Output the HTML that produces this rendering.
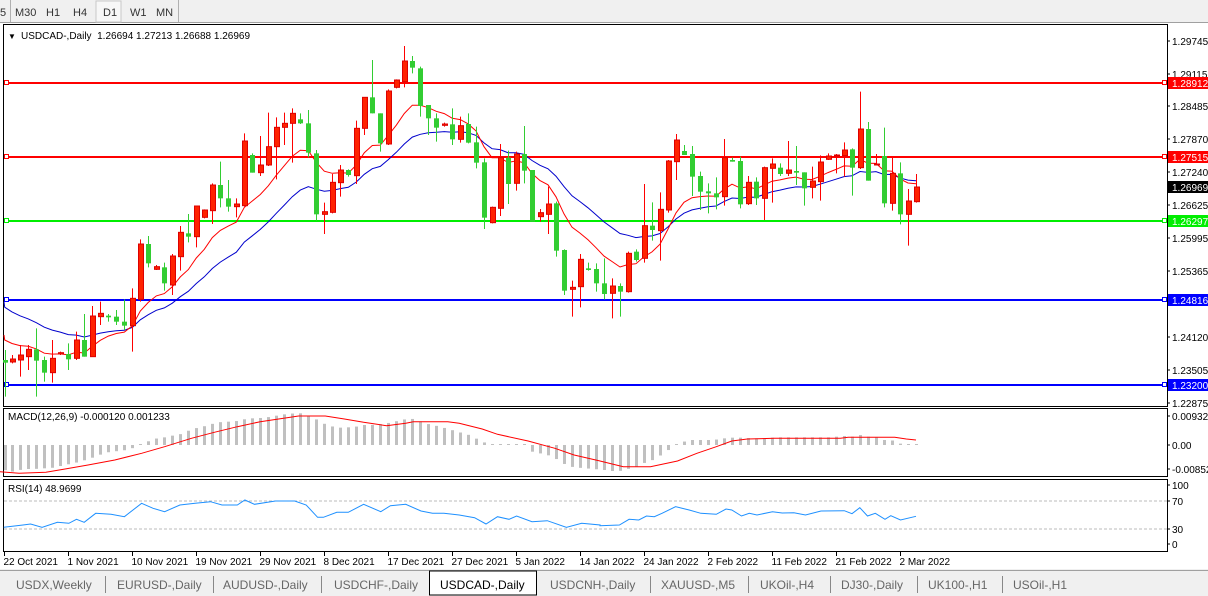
<!DOCTYPE html>
<html><head><meta charset="utf-8"><style>
html,body{margin:0;padding:0;background:#fff;width:1208px;height:596px;overflow:hidden;font-family:"Liberation Sans",sans-serif}
svg{display:block}
</style></head><body>
<svg id="s" width="1208" height="596" xmlns="http://www.w3.org/2000/svg" font-family="Liberation Sans, sans-serif"></svg>
<script>
var S=document.getElementById('s');var out=[];
function r(x,y,w,h,f,st){out.push('<rect x="'+x+'" y="'+y+'" width="'+w+'" height="'+h+'" fill="'+f+'"'+(st?' stroke="'+st+'" stroke-width="1"':'')+'/>');}
function l(x1,y1,x2,y2,c,w,d){out.push('<line x1="'+x1+'" y1="'+y1+'" x2="'+x2+'" y2="'+y2+'" stroke="'+c+'" stroke-width="'+(w||1)+'"'+(d?' stroke-dasharray="'+d+'"':'')+'/>');}
function t(x,y,s,c,sz,anc){out.push('<text x="'+x+'" y="'+y+'" fill="'+(c||'#000')+'" font-size="'+(sz||11)+'"'+(anc?' text-anchor="'+anc+'"':'')+'>'+s+'</text>');}
function pl(pts,c,w){out.push('<polyline fill="none" stroke="'+c+'" stroke-width="'+(w||1)+'" points="'+pts.map(function(p){return p[0].toFixed(1)+','+p[1].toFixed(1)}).join(' ')+'"/>');}
// toolbar
r(0,0,1208,23,'#f0f0f0');
l(0,22.5,1208,22.5,'#a0a0a0');
r(96,1,25,21,'#f7f7f7','#c8c8c8');
[[0,'5'],[15,'M30'],[46,'H1'],[73,'H4'],[103,'D1'],[130,'W1'],[156,'MN']].forEach(function(a){t(a[0],16,a[1],'#333',11)});
l(10.5,0,10.5,22,'#b0b0b0');l(178.5,0,178.5,22,'#b0b0b0');
// frames
r(3.5,24.5,1164,382,'#fff','#000');
r(3.5,408.5,1164,68,'#fff','#000');
r(3.5,479.5,1164,72,'#fff','#000');
// horizontal levels
var lv=[[83,'#ff0000','1.28912'],[157,'#ff0000','1.27515'],[221,'#00ee00','1.26297'],[300,'#0000ff','1.24816'],[385,'#0000ff','1.23200']];
lv.forEach(function(a){l(4,a[0],1167,a[0],a[1],2);r(4.5,a[0]-2.5,4,4,'#fff',a[1]);r(1162.5,a[0]-2.5,4,4,'#fff',a[1]);});
var C=[
[14,'G',990,998,960,1100],[36,'R',987,996,975,1000],[60,'R',975,990,945,1040],[85,'R',958,980,945,1020],[109,'G',958,992,895,1100],[133,'G',990,1028,980,1055],[157,'R',985,1028,930,1058],[181,'R',968,972,965,975],[205,'G',972,988,940,1020],[229,'R',930,985,905,990],
[253,'G',930,980,852,980],[277,'R',858,980,828,980],[301,'R',850,860,815,885],[325,'G',857,862,852,875],[349,'G',860,875,840,885],[373,'G',875,887,808,900],[397,'R',805,887,775,965],[421,'R',642,808,628,815],[445,'G',642,700,618,712],[469,'R',710,718,705,720],
[493,'G',712,760,698,782],[517,'R',678,765,672,795],[541,'R',607,680,588,722],[565,'G',610,620,552,637],[589,'R',528,620,528,652],[613,'R',540,562,538,565],[637,'R',465,542,460,582],[661,'G',465,505,395,532],[685,'G',505,530,450,545],[709,'R',522,530,505,562],
[733,'R',333,527,310,530],[757,'G',375,428,370,428],[781,'R',405,428,318,438],[805,'R',350,405,248,408],[829,'R',292,350,262,448],[853,'R',280,292,248,345],[877,'R',250,280,235,398],[901,'G',268,280,250,282],[925,'G',280,368,240,382],[949,'G',370,553,360,572],
[973,'R',545,553,518,612],[997,'R',457,547,432,550],[1021,'R',420,458,405,500],[1045,'G',420,435,418,440],[1069,'R',295,437,272,462],[1093,'R',202,295,202,315],[1117,'G',202,250,90,250],[1141,'G',250,340,250,365],[1165,'R',183,342,178,345],[1189,'R',150,172,148,175],
[1213,'R',93,155,48,172],[1237,'G',93,113,78,130],[1261,'G',115,228,110,260],[1285,'G',225,265,225,315],[1309,'G',265,293,250,335],[1333,'R',282,286,278,290],[1357,'G',283,328,235,345],[1381,'R',287,328,260,338]];
var C2=[[24,'G',282,338,250,340],[48,'G',337,398,290,415],[72,'G',397,563,385,597],[96,'R',532,578,530,580],[120,'R',383,535,342,558],[144,'G',383,462,362,522],[168,'R',372,460,365,482],[192,'G',372,422,288,460],[216,'G',420,575,420,575],[240,'R',548,560,537,575],
[264,'R',522,553,470,612],[288,'G',520,662,515,680],[312,'G',660,782,658,795],[336,'R',772,778,752,860],[360,'R',688,770,672,832],[384,'G',715,720,698,722],[408,'G',717,760,700,785],[432,'G',760,792,685,808],[456,'R',768,790,745,865],[480,'G',768,785,760,860],
[504,'R',670,785,665,788],[528,'G',665,690,658,695],[552,'R',587,685,462,698],[576,'G',587,600,517,632],[600,'R',538,602,487,692],[624,'R',393,540,390,548],[648,'R',330,395,312,450],[672,'G',363,375,345,375],[696,'G',372,440,348,498],[720,'G',438,485,425,540],
[744,'G',484,490,460,550],[768,'G',490,502,442,538],[792,'R',383,500,327,527],[816,'G',390,395,383,395],[840,'G',393,523,380,535],[864,'R',457,521,438,525],[888,'G',455,505,442,525],[912,'R',413,505,410,570],[936,'R',402,415,385,518],[960,'G',413,432,400,438],
[984,'R',420,430,333,438],[1008,'G',423,428,348,465],[1032,'G',427,475,427,527],[1056,'R',453,472,410,505],[1080,'R',396,455,376,512],[1104,'R',378,388,370,390],[1128,'R',375,378,372,430],[1152,'R',360,377,337,440],[1176,'G',358,413,355,497],[1200,'R',297,413,185,417],
[1224,'G',297,452,276,452],[1248,'R',402,405,372,405],[1272,'G',378,520,293,532],[1296,'R',430,520,384,542],[1320,'G',430,553,397,583],[1344,'R',513,553,477,647],[1368,'R',471,515,432,518]];
var all=[];C.forEach(function(c){all.push([c[0]/3].concat(c.slice(1)))});C2.forEach(function(c){all.push([460+c[0]/3].concat(c.slice(1)))});
function Y(z){return 30+z/3;}
var e1=915,e2=815,k1=2/11,k2=2/22,m1=[[4,Y(915)]],m2=[[4,Y(815)]];
all.forEach(function(c){var cl=c[1]=='R'?c[2]:c[3];e1+=k1*(cl-e1);e2+=k2*(cl-e2);m1.push([c[0],Y(e1)]);m2.push([c[0],Y(e2)]);});
pl(m2,'#0000cc',1);pl(m1,'#ff0000',1);
all.forEach(function(c){var x=Math.round(c[0])+0.5;
l(x,Y(c[4]),x,Y(c[5]),c[1]=='R'?'#ff0000':'#32cd32',1);
var bt=Y(c[2]),bb=Y(c[3]);var h=Math.max(1,bb-bt);
if(c[1]=='R')r(x-2,bt,5,h,'#ff2200','#dd0000');else r(x-2.5,bt,5,h,'#32cd32');});
t(8,39,'▼','#000',8);t(21,39,'USDCAD-,Daily&#160;&#160;1.26694 1.27213 1.26688 1.26969','#000',10);
[[41,'1.29745'],[74,'1.29115'],[106,'1.28485'],[139,'1.27870'],[172,'1.27240'],[205,'1.26625'],[238,'1.25995'],[271,'1.25365'],[337,'1.24120'],[370,'1.23505'],[403,'1.22875']].forEach(function(a){l(1167,a[0],1170,a[0],'#000');t(1172,a[0]+4,a[1],'#000',10);});
var lb=[[83,'#ff0000','1.28912'],[157,'#ff0000','1.27515'],[187,'#000000','1.26969'],[221,'#00ee00','1.26297'],[300,'#0000ff','1.24816'],[385,'#0000ff','1.23200']];
lb.forEach(function(a){r(1168,a[0]-6,40,12,a[1]);t(1172,a[0]+4,a[2],'#fff',10);});
function interp(pts,x){if(x<=pts[0][0])return pts[0][1];for(var i=1;i<pts.length;i++){if(x<=pts[i][0]){var a=pts[i-1],b=pts[i];return a[1]+(b[1]-a[1])*(x-a[0])/(b[0]-a[0]);}}return pts[pts.length-1][1];}
function cv(a,off,f){var o=[];for(var i=0;i<a.length;i+=2)o.push([off+a[i]/f,405+a[i+1]/3]);return o;}
var H=cv([10,195,30,200,50,195,70,192,90,192,110,190,130,190,150,185,170,180,190,175,210,170,230,162,250,155,270,145,290,140,310,138,330,135,350,128,370,115,390,108,410,100,430,97,450,92,470,88,490,78,510,70,530,65,550,58,570,52,590,50,610,50,630,45,650,40,670,40,690,38,710,35,730,30,750,27,770,25,790,25,810,35,830,45,850,58,870,65,890,68,910,67,930,65,950,60,970,60,990,58,1010,55,1030,50,1050,45,1070,40,1090,45,1110,55,1130,60,1150,65,1170,72,1190,78,1210,85,1230,92,1250,105,1270,115,1290,120,1310,122,1350,122,1370,122,1390,140,1410,145,1430,150,1450,160,1470,175,1490,185,1510,188,1530,190,1550,192],0,2.613).concat(
cv([10,195,30,198,50,198,70,192,90,188,110,175,130,168,150,155,170,140,190,122,210,112,230,105,290,105,310,102,330,98,370,98,390,100,430,100,450,97,590,97,610,95,630,93,650,95,670,90,690,95,710,97,730,105,750,105,770,115,790,120,810,122],600,2.579));
var SG=cv([0,200,50,205,120,202,170,192,230,180,300,165,370,145,430,125,500,100,560,82,620,65,680,50,750,38,780,33,850,33,900,42,950,52,1010,62,1060,55,1080,50,1170,50,1200,55,1260,72,1300,88,1380,108,1450,130,1500,150,1568,168],0,2.613).concat(
cv([0,168,60,185,130,185,200,168,250,145,300,125,340,108,380,102,450,100,620,100,640,97,760,97,790,102,815,105],600,2.579));
all.forEach(function(c){var x=Math.round(c[0]);var v=interp(H,c[0]);if(Math.abs(v-445)<1){r(x-1,444,3,1,'#c0c0c0');return;}r(x-1,Math.min(v,445),3,Math.abs(v-445),'#c0c0c0');});
pl(SG,'#ff0000',1);
t(8,420,'MACD(12,26,9) -0.000120 0.001233','#000',10);
[[416,'0.009327'],[445,'0.00'],[469,'-0.008522']].forEach(function(a){l(1167,a[0],1170,a[0],'#000');t(1172,a[0]+4,a[1],'#000',10);});
l(4,501,1167,501,'#bbb',1,'3,2');l(4,529,1167,529,'#bbb',1,'3,2');
var R=cv([10,367,60,360,80,357,110,367,150,352,180,355,200,343,220,352,250,325,290,328,325,335,370,295,400,310,430,320,470,300,510,295,550,290,580,300,620,300,640,285,665,298,720,288,770,288,800,300,830,337,845,337,880,322,910,322,950,298,995,320,1020,302,1060,298,1100,318,1130,325,1160,325,1200,330,1240,338,1270,357,1300,335,1330,343,1350,333,1390,350,1430,347,1480,367,1520,355,1568,360],0,2.613).concat(
cv([0,362,50,360,75,343,100,345,120,333,140,335,160,325,195,305,230,315,260,325,300,328,325,312,340,315,365,333,385,325,405,330,445,320,470,324,500,323,530,330,570,318,630,317,650,326,670,308,690,333,710,325,735,343,750,332,775,345,815,334],600,2.579));
pl(R,'#1e90ff',1);
t(8,492,'RSI(14) 48.9699','#000',10);
[[486,'100'],[502,'70'],[530,'30'],[545,'0']].forEach(function(a){l(1167,a[0]-1,1170,a[0]-1,'#000');t(1172,a[0]+3,a[1],'#000',10);});
var d=['22 Oct 2021','1 Nov 2021','10 Nov 2021','19 Nov 2021','29 Nov 2021','8 Dec 2021','17 Dec 2021','27 Dec 2021','5 Jan 2022','14 Jan 2022','24 Jan 2022','2 Feb 2022','11 Feb 2022','21 Feb 2022','2 Mar 2022'];
d.forEach(function(s,i){var x=Math.round(4+i*64)+0.5;l(x,552,x,556,'#000');t(x-1,565,s,'#000',10);});
r(0,569,1208,27,'#f0f0f0');l(0,570.5,1208,570.5,'#a0a0a0');
r(429.5,571,107,24,'#fff','#000');
var tb=[[16,'USDX,Weekly'],[117,'EURUSD-,Daily'],[223,'AUDUSD-,Daily'],[334,'USDCHF-,Daily'],[440,'USDCAD-,Daily'],[550,'USDCNH-,Daily'],[661,'XAUUSD-,M5'],[760,'UKOil-,H4'],[841,'DJ30-,Daily'],[928,'UK100-,H1'],[1013,'USOil-,H1']];
tb.forEach(function(a,i){t(a[0],589,a[1],i==4?'#000':'#666',12);});
[105,213,321,650,748,830,917,1002].forEach(function(x){l(x+0.5,576,x+0.5,593,'#888');});
S.innerHTML=out.join('');
</script>
</body></html>
